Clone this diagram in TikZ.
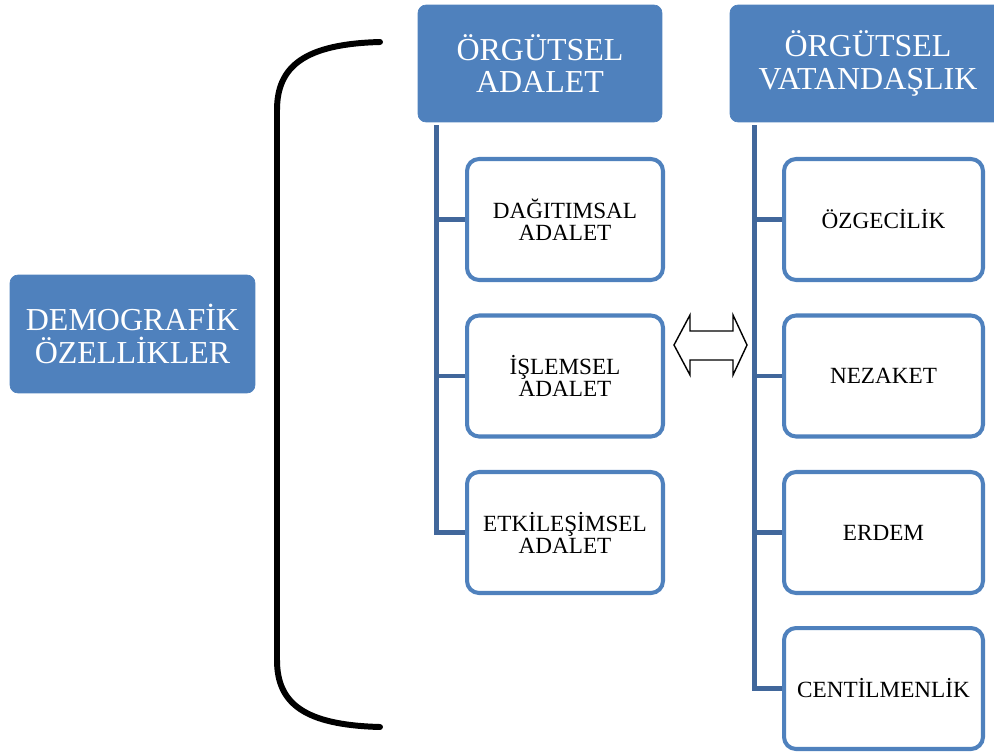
\documentclass[tikz,border=0pt]{standalone}
\usepackage{fontspec}
\setmainfont{Liberation Serif}
\usetikzlibrary{positioning}
\definecolor{boxblue}{HTML}{4F81BD}
\definecolor{lineblue}{HTML}{41679B}
\tikzset{
  headbox/.style={draw=boxblue,fill=boxblue,rounded corners=0.16cm,text=white,align=center,
    font=\fontsize{18.2}{18.5}\selectfont,inner sep=0pt,minimum height=2.34cm},
  itembox/.style={draw=boxblue,line width=2.3pt,fill=white,rounded corners=0.24cm,align=center,
    font=\fontsize{13.2}{12.5}\selectfont,inner sep=0pt,minimum height=2.42cm},
  branch/.style={draw=lineblue,line width=2.8pt}
}

\begin{document}
\begin{tikzpicture}[x=0.02cm,y=-0.02cm]
  \useasboundingbox (0,0) rectangle (994,754);

  % left block and bracket
  \node[headbox,minimum width=4.9cm,minimum height=2.36cm] (demo) at (132.5,334) {DEMOGRAFİK\\ÖZELLİKLER};
  \draw[line width=3.4pt,line cap=round] (380,42) .. controls (305,44) and (277,66) .. (277,110)
    -- (277,660) .. controls (277,704) and (305,725) .. (380,727);

  % headers
  \node[headbox,minimum width=4.88cm] (adalet) at (540,63.5) {ÖRGÜTSEL\\ADALET};
  \node[headbox,minimum width=5.52cm] (vatan) at (868,63.5) {ÖRGÜTSEL\\VATANDAŞLIK};

  % items
  \node[itembox,minimum width=3.92cm] (dag) at (565,219.5) {DAĞITIMSAL\\ADALET};
  \node[itembox,minimum width=3.92cm] (isl) at (565,376) {İŞLEMSEL\\ADALET};
  \node[itembox,minimum width=3.92cm] (etk) at (565,532.5) {ETKİLEŞİMSEL\\ADALET};

  \node[itembox,minimum width=3.98cm] (ozg) at (883.5,219.5) {ÖZGECİLİK};
  \node[itembox,minimum width=3.98cm] (nez) at (883.5,376) {NEZAKET};
  \node[itembox,minimum width=3.98cm] (erd) at (883.5,532.5) {ERDEM};
  \node[itembox,minimum width=3.98cm] (cen) at (883.5,688.5) {CENTİLMENLİK};

  % tree lines
  \foreach \c in {dag,isl,etk}
    \draw[branch] ([xshift=0.38cm,yshift=-0.06cm]adalet.south west) |- (\c.west);
  \foreach \c in {ozg,nez,erd,cen}
    \draw[branch] ([xshift=0.5cm,yshift=-0.06cm]vatan.south west) |- (\c.west);

  % double arrow
  \coordinate (swap) at (711,345);
  \draw[line width=0.8pt,fill=white] (swap) ++(-37,0) -- ++(16,-30) -- ++(0,16) -- ++(43,0)
    -- ++(0,-16) -- ++(14,30) -- ++(-14,30) -- ++(0,-15) -- ++(-43,0) -- ++(0,15) -- cycle;
\end{tikzpicture}
\end{document}
